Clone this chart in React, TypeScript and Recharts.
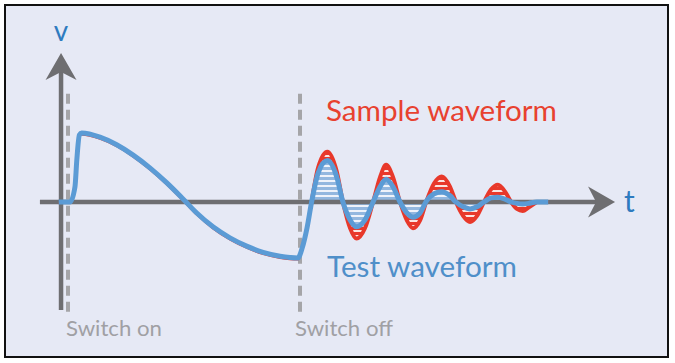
import React from 'react';
import { ComposedChart, Area, Line, XAxis, YAxis, ReferenceLine } from 'recharts';

// time (ms-like units), switch on at t=0, switch off at t=10
const tValues = [
  -0.4, 0.09, 0.3, 0.38, 0.49, 0.59, 1.38, 2.1, 2.81, 3.53, 4.25, 4.97, 5.55, 6.25, 6.98, 7.7, 8.41, 9.14,
  9.91, 10.1, 10.3, 10.5, 10.78, 11.18, 11.58, 11.85, 12.16, 12.44, 12.8, 13.15, 13.45, 13.71, 14.01, 14.31,
  14.61, 14.87, 15.17, 15.46, 15.78, 16.11, 16.47, 16.72, 17.03, 17.33, 17.63, 17.93, 18.23, 18.53, 18.84,
  19.1, 19.35, 19.6, 19.85, 20.2, 20.7,
];
const testWave = [
  0, 0, 0.22, 0.61, 0.97, 1.0, 0.94, 0.83, 0.68, 0.495, 0.28, 0.04, -0.16, -0.36, -0.52, -0.64, -0.73, -0.785,
  -0.81, -0.66, -0.38, 0, 0.42, 0.6, 0.367, 0, -0.26, -0.36, -0.26, 0, 0.22, 0.33, 0.22, 0,
  -0.16, -0.22, -0.16, 0.02, 0.12, 0.15, 0.09, 0, -0.07, -0.1, -0.07, 0, 0.06, 0.07, 0.04,
  0, -0.02, -0.03, -0.02, 0, 0,
];
const sampleWave = [
  -0.02, -0.02, 0.17, 0.55, 0.93, 0.97, 0.91, 0.8, 0.65, 0.465, 0.25, 0.01, -0.19, -0.39, -0.55, -0.67, -0.76, -0.815,
  -0.84, -0.69, -0.4, 0, 0.5, 0.73, 0.45, 0, -0.38, -0.53, -0.38, 0, 0.36, 0.54, 0.36, 0,
  -0.27, -0.38, -0.27, 0.02, 0.27, 0.37, 0.22, 0, -0.2, -0.29, -0.2, 0, 0.18, 0.25, 0.15,
  0, -0.1, -0.13, -0.08, 0, 0,
];
const switchOn = 0;
const switchOff = 10;
const oscStart = 10.5;
const oscEnd = 20.2;

const data = tValues.map((t, i) => ({
  t,
  test: testWave[i],
  sample: sampleWave[i],
  testFill: t >= oscStart ? testWave[i] : null,
  sampleFill: t >= oscStart && t <= oscEnd ? sampleWave[i] : null,
}));

const AXIS = '#6e6e71';
const DASH = '#a5a5a8';
const BLUE = '#5b9bd5';
const RED = '#e8392b';

const Arrow = (props: any) => {
  const { x1, y1, x2, y2, stroke, strokeWidth } = props;
  const dx = x2 - x1;
  const dy = y2 - y1;
  const len = Math.hypot(dx, dy) || 1;
  const ux = dx / len;
  const uy = dy / len;
  const px = -uy;
  const py = ux;
  const L = 27;
  const W = 15.5;
  const N = 19;
  const bx = x2 - ux * L;
  const by = y2 - uy * L;
  const nx = x2 - ux * N;
  const ny = y2 - uy * N;
  return (
    <g>
      <line x1={x1} y1={y1} x2={nx} y2={ny} stroke={stroke} strokeWidth={strokeWidth} />
      <polygon
        points={`${x2},${y2} ${bx + px * W},${by + py * W} ${nx},${ny} ${bx - px * W},${by - py * W}`}
        fill={stroke}
      />
    </g>
  );
};

export default function App() {
  return (
    <div style={{ position: 'absolute', left: 0, top: 0, width: 675, height: 363, background: '#ffffff' }}>
      <div
        style={{
          position: 'absolute',
          left: 4,
          top: 4,
          width: 665,
          height: 354,
          boxSizing: 'border-box',
          border: '2px solid #111',
          background: '#e6e9f5',
        }}
      />
      <svg width={0} height={0} style={{ position: 'absolute' }}>
        <defs>
          <pattern id="blueHatch" patternUnits="userSpaceOnUse" width={8} height={5}>
            <rect x={0} y={0} width={8} height={5} fill="#93b7df" />
            <rect x={0} y={0} width={8} height={2} fill="#eef2fa" />
          </pattern>
          <pattern id="redHatch" patternUnits="userSpaceOnUse" width={8} height={5}>
            <rect x={0} y={0} width={8} height={5} fill={RED} />
            <rect x={0} y={0} width={8} height={2} fill="#fbe4e0" />
          </pattern>
        </defs>
      </svg>
      <div style={{ position: 'absolute', left: 0, top: 0 }}>
        <ComposedChart
          width={675}
          height={363}
          data={data}
          margin={{ top: 29.5, right: 27, bottom: 23, left: 21.6 }}
        >
          <XAxis dataKey="t" type="number" domain={[-2, 25]} hide allowDataOverflow />
          <YAxis type="number" domain={[-2, 2.5]} hide allowDataOverflow />
          <Area
            dataKey="sampleFill"
            type="monotone"
            fill="url(#redHatch)"
            fillOpacity={1}
            stroke={RED}
            strokeWidth={4}
            isAnimationActive={false}
            dot={false}
            activeDot={false}
          />
          <Area
            dataKey="testFill"
            type="monotone"
            fill="url(#blueHatch)"
            fillOpacity={1}
            stroke="none"
            isAnimationActive={false}
            dot={false}
            activeDot={false}
          />
          <ReferenceLine
            segment={[{ x: -1.21, y: 0 }, { x: 23.58, y: 0 }]}
            stroke={AXIS}
            strokeWidth={4.5}
            shape={Arrow}
            ifOverflow="visible"
          />
          <ReferenceLine
            segment={[{ x: -0.3, y: -1.565 }, { x: -0.3, y: 2.16 }]}
            stroke={AXIS}
            strokeWidth={4.5}
            shape={Arrow}
            ifOverflow="visible"
          />
          <ReferenceLine
            segment={[{ x: switchOn, y: -1.59 }, { x: switchOn, y: 1.62 }]}
            stroke={DASH}
            strokeWidth={4}
            strokeDasharray="10 6"
            ifOverflow="visible"
          />
          <ReferenceLine
            segment={[{ x: switchOff, y: -1.59 }, { x: switchOff, y: 1.62 }]}
            stroke={DASH}
            strokeWidth={4}
            strokeDasharray="10 6"
            ifOverflow="visible"
          />
          <Line
            dataKey="sample"
            type="monotone"
            stroke={RED}
            strokeWidth={1.3}
            dot={false}
            activeDot={false}
            isAnimationActive={false}
          />
          <Line
            dataKey="test"
            type="monotone"
            stroke={BLUE}
            strokeWidth={5}
            dot={false}
            activeDot={false}
            isAnimationActive={false}
          />
        </ComposedChart>
      </div>
      <svg
        width={675}
        height={363}
        style={{ position: 'absolute', left: 0, top: 0, pointerEvents: 'none' }}
        fontFamily="Lato, 'Open Sans', sans-serif"
      >
        <text x={61} y={41} fontSize={28} fill="#2e7bbf" textAnchor="middle">v</text>
        <text x={624} y={212} fontSize={30} fill="#2e7bbf">t</text>
        <text x={326} y={121} fontSize={28} fill="#e8412f" textLength={231} lengthAdjust="spacingAndGlyphs">
          Sample waveform
        </text>
        <text x={327} y={277} fontSize={28} fill="#4f8fc9" textLength={190} lengthAdjust="spacingAndGlyphs">
          Test waveform
        </text>
        <text x={66} y={336} fontSize={22} fill="#a0a0a4" textLength={96} lengthAdjust="spacingAndGlyphs">
          Switch on
        </text>
        <text x={295} y={336} fontSize={22} fill="#a0a0a4" textLength={98} lengthAdjust="spacingAndGlyphs">
          Switch off
        </text>
      </svg>
    </div>
  );
}
